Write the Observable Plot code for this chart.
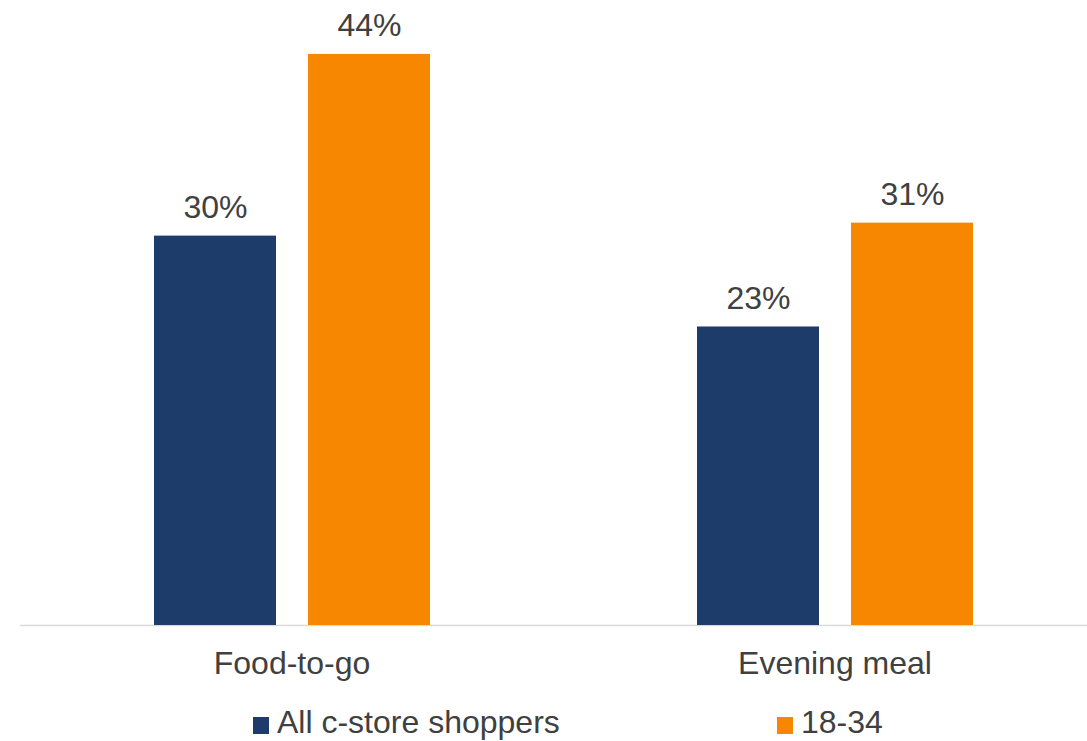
<!DOCTYPE html>
<html>
<head>
<meta charset="utf-8">
<script src="https://cdn.jsdelivr.net/npm/d3@7"></script>
<script src="https://cdn.jsdelivr.net/npm/@observablehq/plot@0.6"></script>
<style>
  html, body { margin: 0; padding: 0; background: #fff; overflow: hidden; }
  #wrap { position: relative; width: 1087px; height: 741px; font-family: "Liberation Sans", Arial, sans-serif; color: #404040; }
  #legend { position: absolute; left: 0; top: 704px; width: 1087px; height: 36px; font-size: 32px; line-height: 36px; }
  .item { position: absolute; top: 0; white-space: nowrap; }
  .sw { position: absolute; top: 13px; width: 16px; height: 17px; }
  .lbl { position: absolute; left: 24px; top: 0; }
</style>
</head>
<body>
<div id="wrap"><div id="chart"></div><div id="legend"></div></div>
<script>
const categories = ["Food-to-go", "Evening meal"];
const seriesNames = ["All c-store shoppers", "18-34"];
const allShoppers = [30, 23];
const age18to34 = [44, 31];
const seriesColors = ["#1E3C6A", "#F88700"];

const seriesValues = [allShoppers, age18to34];
const data = [];
categories.forEach((c, i) => {
  seriesNames.forEach((s, j) => {
    data.push({category: c, series: s, value: seriesValues[j][i]});
  });
});

const chart = Plot.plot({
  width: 1087,
  height: 704,
  marginLeft: 20,
  marginRight: -19,
  marginTop: 2,
  marginBottom: 79,
  style: {fontFamily: '"Liberation Sans", Arial, sans-serif', fontSize: "32px", color: "#404040", background: "#fff"},
  fx: {domain: categories, padding: 0, label: null, axis: null},
  x: {domain: seriesNames, paddingInner: 0.21, paddingOuter: 0.861, axis: null},
  y: {domain: [0, 48], axis: null},
  color: {domain: seriesNames, range: seriesColors},
  marks: [
    Plot.ruleY([0], {stroke: "#D9D9D9", strokeWidth: 1.5}),
    Plot.barY(data, {fx: "category", x: "series", y: "value", fill: "series"}),
    Plot.text(data, {fx: "category", x: "series", y: "value", text: d => d.value + "%", dy: -28.5, fill: "#404040", fontSize: 32}),
    Plot.axisFx({anchor: "bottom", tickSize: 0, tickPadding: 26, fontSize: 32, color: "#404040", label: null})
  ]
});
document.getElementById("chart").appendChild(chart);

const legend = document.getElementById("legend");
const legendLeft = [253, 777];
seriesNames.forEach((s, j) => {
  const item = document.createElement("div");
  item.className = "item";
  item.style.left = legendLeft[j] + "px";
  const sw = document.createElement("span");
  sw.className = "sw";
  sw.style.background = seriesColors[j];
  const lbl = document.createElement("span");
  lbl.className = "lbl";
  lbl.textContent = s;
  item.appendChild(sw);
  item.appendChild(lbl);
  legend.appendChild(item);
});
</script>
</body>
</html>
